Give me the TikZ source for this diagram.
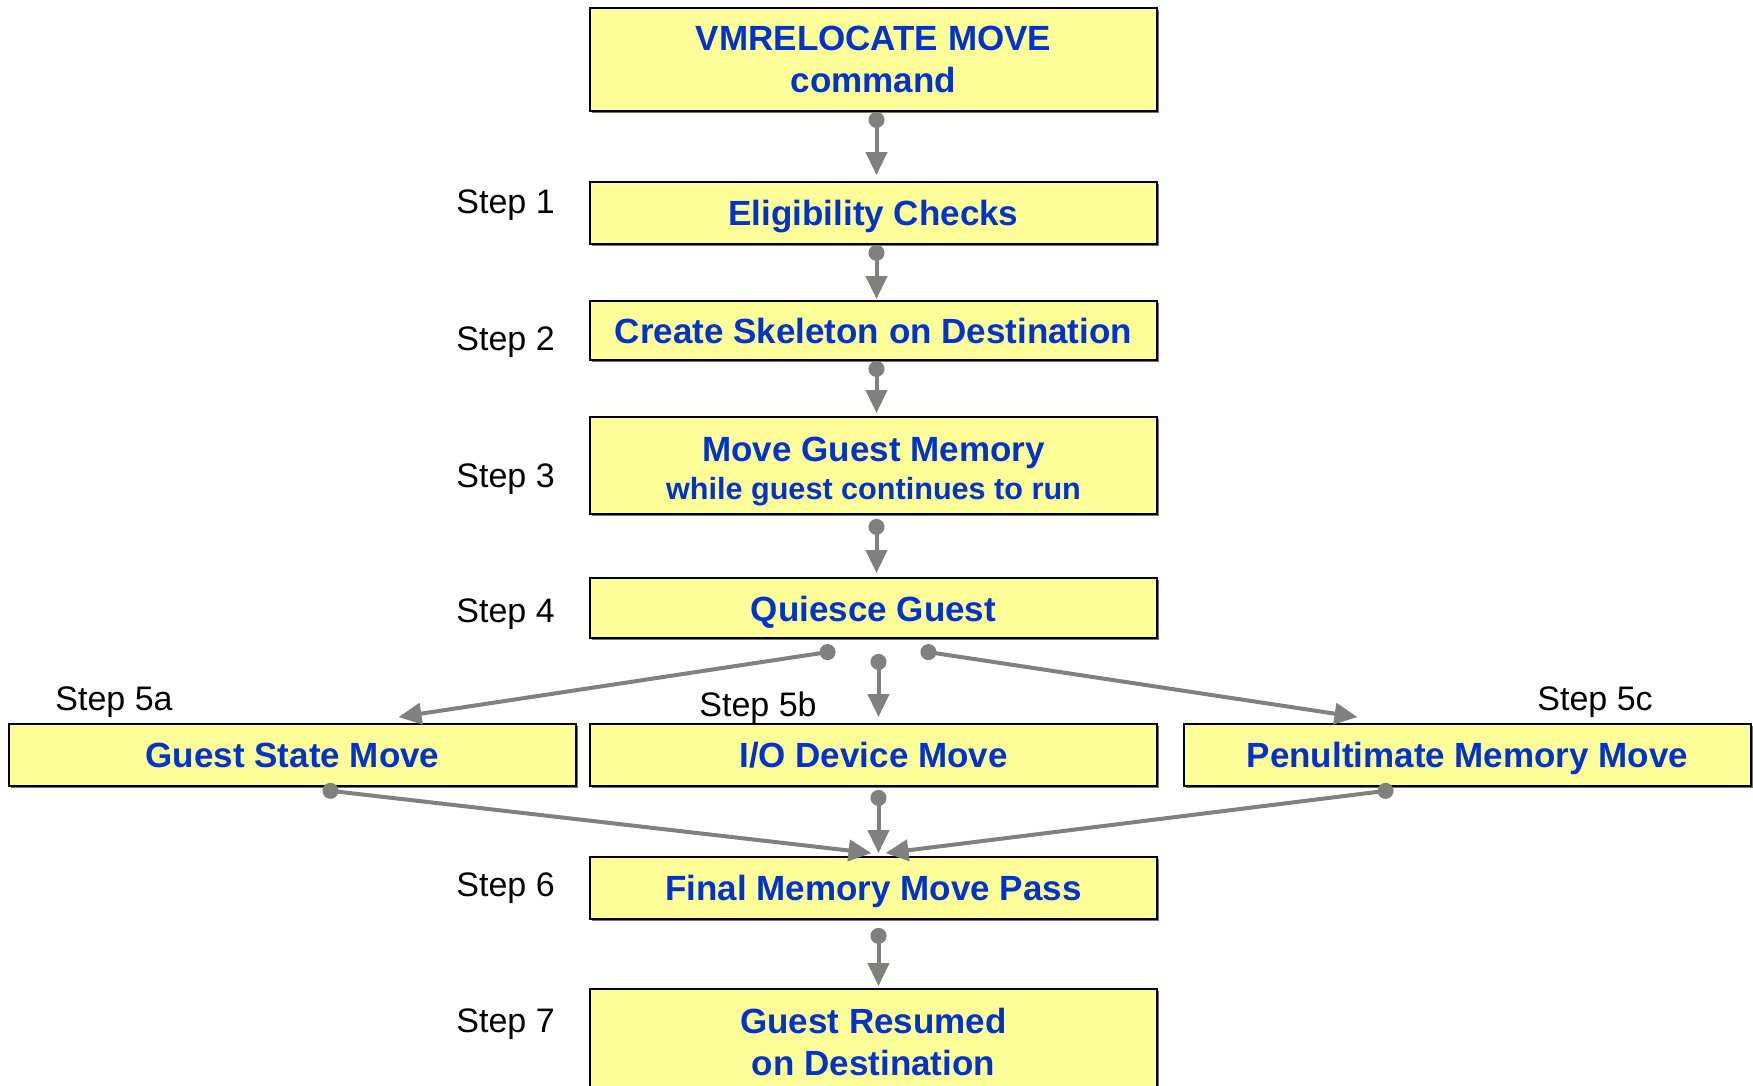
\documentclass[tikz,border=0pt]{standalone}
\usepackage{fontspec}
\setmainfont{Liberation Sans}
\usetikzlibrary{calc,arrows.meta,shadows}
\definecolor{boxfill}{RGB}{255,255,153}
\definecolor{boxtext}{RGB}{0,51,204}
\definecolor{linkgray}{RGB}{128,128,128}

\begin{document}
\begin{tikzpicture}[x=0.5pt,y=-0.5pt,
  stage/.style={draw=black, line width=0.9pt, fill=boxfill, text=boxtext,
    font=\fontsize{17.5pt}{21pt}\selectfont\bfseries, align=center,
    minimum width=283.5pt, inner sep=0pt, text depth=0pt,
    drop shadow={shadow xshift=0.8pt, shadow yshift=-0.8pt, fill=black!55, opacity=1}},
  steplabel/.style={anchor=west, inner sep=0pt, font=\fontsize{17pt}{20pt}\selectfont},
  link/.style={draw=linkgray, line width=2pt,
    {Circle[length=8pt]}-{Triangle[length=11.5pt,width=10.5pt]}},
]
\useasboundingbox (0,0) rectangle (1753,1086);
\clip (0,0) rectangle (1753,1086);

% main column of stages
\node[stage, minimum height=51.5pt] (b1) at (873.5,59.5) {VMRELOCATE MOVE\\command};
\node[stage, minimum height=31pt]   (b2) at (873.5,213)  {Eligibility Checks};
\node[stage, minimum height=29.5pt] (b3) at (873.5,330.5) {Create Skeleton on Destination};
\node[stage, minimum height=48.5pt] (b4) at (873.5,465.5)
  {\rule{0pt}{15pt}Move Guest Memory\\[-1.8pt]{\fontsize{15.3pt}{18pt}\selectfont while guest continues to run}};
\node[stage, minimum height=30pt]   (q)  at (873.5,608)  {\raisebox{-1.2pt}{Quiesce Guest}};

% parallel stages
\node[stage, minimum height=31pt] (a) at (292.5,755)  {Guest State Move};
\node[stage, minimum height=31pt] (m) at (873.5,755)  {I/O Device Move};
\node[stage, minimum height=31pt] (c) at (1467.5,755) {Penultimate Memory Move};

% closing stages
\node[stage, minimum height=31pt]   (f) at (873.5,888)    {Final Memory Move Pass};
\node[stage, minimum height=52.5pt] (g) at (873.5,1041.5) {Guest Resumed\\on Destination};

% step labels
\node[steplabel] (s1)  at (456,205.5)  {Step 1};
\node[steplabel] (s2)  at (456,342.5)  {Step 2};
\node[steplabel] (s3)  at (456,479.5)  {Step 3};
\node[steplabel] (s4)  at (456,614.5)  {Step 4};
\node[steplabel] (s5a) at (55,702)     {Step 5a};
\node[steplabel] (s5b) at (699,707.5)  {Step 5b};
\node[steplabel] (s5c) at (1537,702)   {Step 5c};
\node[steplabel] (s6)  at (456,888.5)  {Step 6};
\node[steplabel] (s7)  at (456,1024)   {Step 7};

% sequential links
\draw[link] ($(b1.south)+(3,0)$) -- ($(b2.north)+(3,-6)$);
\draw[link] ($(b2.south)+(3,0)$) -- ($(b3.north)+(3,-1)$);
\draw[link] ($(b3.south)+(3,0)$) -- ($(b4.north)+(3,-3)$);
\draw[link] ($(b4.south)+(3,4)$) -- ($(q.north)+(3,-4)$);

% fan out after quiesce
\draw[link] ($(q.south)+(-38,12)$) -- ($(a.north)+(106,-6)$);
\draw[link] ($(q.south)+(5,15)$)   -- ($(m.north)+(5,-6)$);
\draw[link] ($(q.south)+(47,12)$)  -- ($(c.north)+(-110,-6)$);

% fan in to the final pass
\draw[link] ($(a.south)+(30,3)$)  -- ($(f.north)+(-2,-3)$);
\draw[link] ($(m.south)+(5,3)$)   -- ($(f.north)+(5,-3)$);
\draw[link] ($(c.south)+(-74,3)$) -- ($(f.north)+(12,-3)$);

\draw[link] ($(f.south)+(5,8)$) -- ($(g.north)+(5,-2)$);
\end{tikzpicture}
\end{document}
